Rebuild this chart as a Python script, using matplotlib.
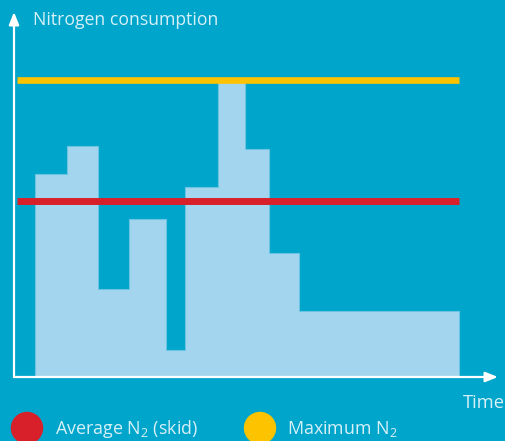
import matplotlib
matplotlib.use("Agg")
import matplotlib.pyplot as plt
from matplotlib.patches import Circle

plt.rcParams['font.family'] = ['Open Sans', 'DejaVu Sans']
plt.rcParams['mathtext.fontset'] = 'custom'
plt.rcParams['mathtext.rm'] = 'Open Sans'
plt.rcParams['mathtext.it'] = 'Open Sans'

# Data (arbitrary units)
time_edges = [21, 53, 84, 115, 152, 171.5, 204.5, 231, 255, 285.5, 445]
consumption = [68.2, 77.9, 29.6, 53.3, 9.1, 64.1, 100.0, 76.8, 41.8, 22.2]
average_n2 = 59.1
maximum_n2 = 100.0
line_start, line_end = 3, 445
axis_title = "Nitrogen consumption"
x_label = "Time"
legend_labels = ["Average N$_2$ (skid)", "Maximum N$_2$"]

BG = "#00a5cb"
FILL = "#a3d6ee"
RED = "#d8202a"
YELLOW = "#fdc300"
TXT = "#d6f0f8"

W, H = 506, 441
fig = plt.figure(figsize=(W / 100, H / 100), dpi=100)
fig.patch.set_facecolor(BG)
ax = fig.add_axes([0, 0, 1, 1])
ax.set_facecolor(BG)
sx = 2.97  # px per consumption unit
ax.set_xlim(-14, W - 14)
ax.set_ylim(-(H - 377) / sx, 377 / sx)
ax.axis('off')

# Step area
xs, ys = [], []
for i, v in enumerate(consumption):
    xs += [time_edges[i], time_edges[i + 1]]
    ys += [v, v]
ax.fill_between(xs, 0, ys, color=FILL, lw=0.8, edgecolor="#6cc4e2", zorder=1)

# Reference lines
ax.plot([line_start, line_end], [maximum_n2, maximum_n2], color=YELLOW, lw=4.8,
        solid_capstyle='butt', zorder=3)
ax.plot([line_start, line_end], [average_n2, average_n2], color=RED, lw=5.0,
        solid_capstyle='butt', zorder=3)

# Axes with arrows
ax.annotate("", xy=(0, 365 / sx), xytext=(0, 0),
            arrowprops=dict(arrowstyle="-|>,head_length=0.75,head_width=0.3",
                            color="white", lw=1.6, shrinkA=0, shrinkB=0), zorder=4)
ax.annotate("", xy=(484, 0), xytext=(0, 0),
            arrowprops=dict(arrowstyle="-|>,head_length=0.75,head_width=0.3",
                            color="white", lw=1.6, shrinkA=0, shrinkB=0), zorder=4)

# Texts
fig.text(33 / W, 1 - 20 / H, axis_title, color=TXT, fontsize=12.7,
         va='center', ha='left')
fig.text(505 / W, 1 - 403 / H, x_label, color=TXT, fontsize=13.2,
         va='center', ha='right')

# Legend
for cx, col, lab, tx in [(27, RED, legend_labels[0], 55), (260, YELLOW, legend_labels[1], 287)]:
    circ = Circle((cx, H - 428), 15.5, transform=None, color=col, zorder=5)
    fig.patches.append(circ)
    fig.text(tx / W, 1 - 434 / H, lab, color=TXT, fontsize=12.9, va='baseline', ha='left')

fig.savefig("out.png", dpi=100, facecolor=BG)
